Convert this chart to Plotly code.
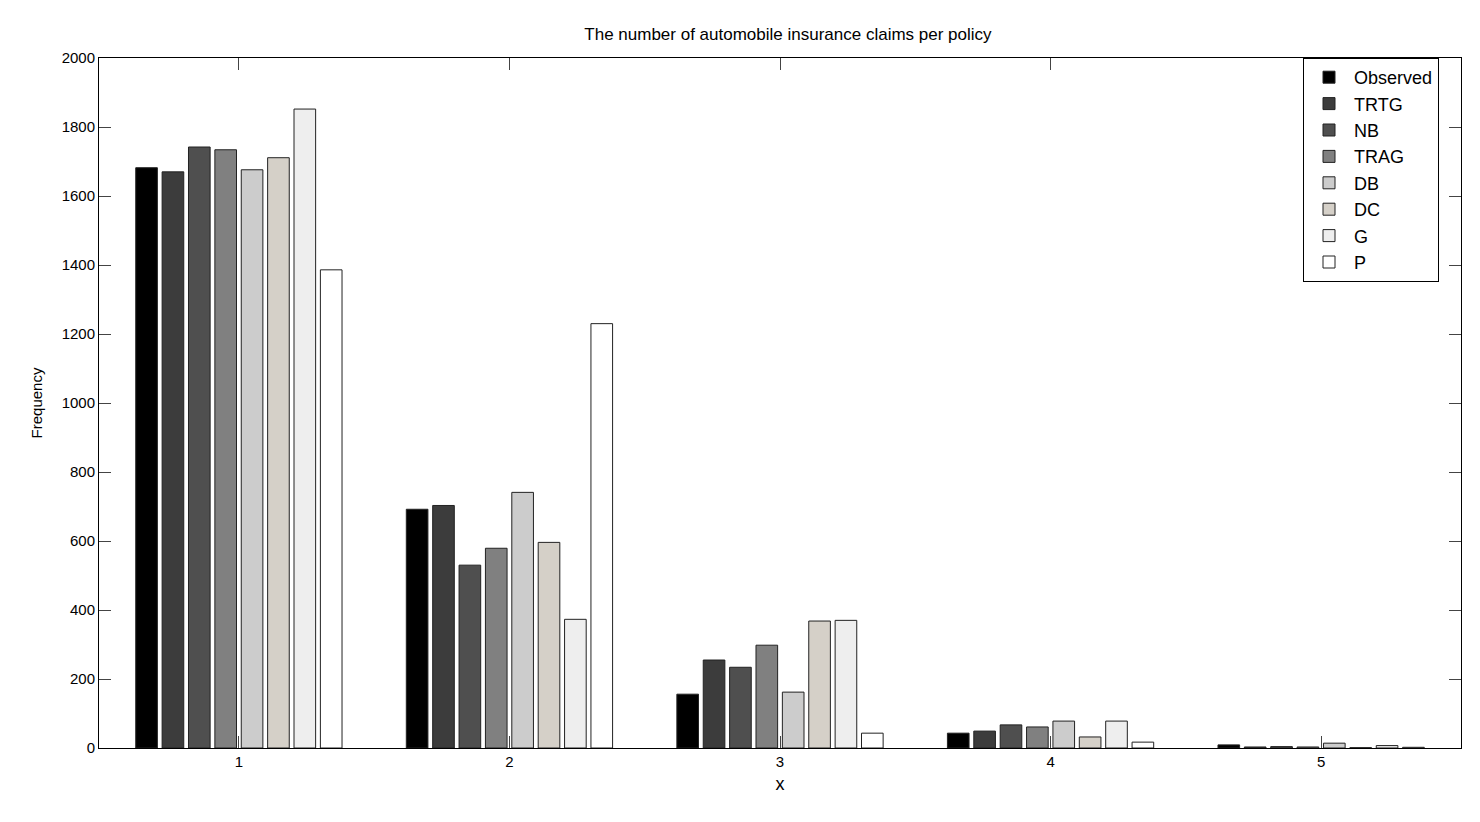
import plotly.graph_objects as go

x = [1, 2, 3, 4, 5]
names = ["Observed", "TRTG", "NB", "TRAG", "DB", "DC", "G", "P"]
colors = ["#000000", "#3c3c3c", "#4f4f4f", "#808080", "#cccccc", "#d5d0c8", "#eeeeee", "#ffffff"]

observed = [1682, 692, 156, 43, 9]
trtg = [1670, 703, 255, 49, 3]
nb = [1742, 530, 234, 67, 4]
trag = [1734, 579, 298, 61, 3]
db = [1676, 741, 162, 78, 14]
dc = [1711, 596, 368, 32, 1]
g = [1852, 373, 370, 78, 7]
p = [1386, 1230, 43, 17, 2]

series = [observed, trtg, nb, trag, db, dc, g, p]

font = "Liberation Sans Narrow, Arial Narrow, Liberation Sans, sans-serif"

fig = go.Figure()
for name, vals, col in zip(names, series, colors):
    fig.add_trace(go.Bar(
        x=x, y=vals, name=name,
        marker=dict(color=col, line=dict(color="#222222", width=1))
    ))

fig.update_layout(
    width=1480, height=822,
    barmode="group", bargap=0.22, bargroupgap=0.18,
    plot_bgcolor="white", paper_bgcolor="white",
    font=dict(family=font, size=15, color="black"),
    margin=dict(l=91, r=27, t=50, b=82),
    title=dict(text="The number of automobile insurance claims per policy",
               x=0.527, xanchor="center", y=0.975, font=dict(size=17)),
    legend=dict(x=0.884, y=1, xanchor="left", yanchor="top",
                bordercolor="black", borderwidth=1, bgcolor="white",
                font=dict(size=18), tracegroupgap=0, itemwidth=40),
    xaxis=dict(title=dict(text="x", standoff=8), range=[0.483, 5.517],
               tickvals=x, ticks="inside", ticklen=12, mirror="ticks",
               showline=True, linecolor="black", linewidth=1, showgrid=False, zeroline=False),
    yaxis=dict(title=dict(text="Frequency", font=dict(family="Liberation Sans", size=15)),
               range=[0, 2000], dtick=200, ticks="inside", ticklen=12, mirror="ticks",
               showline=True, linecolor="black", linewidth=1, showgrid=False, zeroline=False),
)

fig.write_html("out.html")
